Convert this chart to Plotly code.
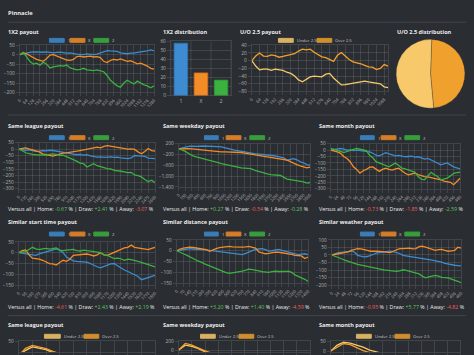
import plotly.graph_objects as go

W, H = 474, 355
BG = "#2a2d32"
GRID = "rgba(255,255,255,0.11)"
TXT = "#ececec"
TICK = "#b0b0b0"
BLUE = "#3d8bd0"
ORANGE = "#f38b26"
GREEN = "#3bb13f"
UNDER = "#f8c96a"
OVER = "#f0a02c"
POS = "#62c462"
NEG = "#ee5f5b"
FONT = "Open Sans"

# ---------------- data ----------------
# 1X2 payout (Pinnacle)
pay_home = [0, 5, 8, 12, 15, 14, 16, 13, 15, 12, 10, 12, 14, 11, 8, 10, 5, 3, 2, 0, 4, 2, 0, 3,
            10, 18, 22, 20, 20, 18, 10, 6, 5, 8, 8, 12, 15, 14, 20, 25, 20]
pay_draw = [0, 10, 5, -5, -15, -25, -30, -35, -20, -2, 0, -8, -15, -22, -28, -30, -25, -10, -8, -12,
            -10, -8, -12, -10, -15, -35, -42, -30, -25, -28, -22, -30, -35, -32, -40, -48, -45, -52,
            -60, -72, -76]
pay_away = [0, 12, -10, -35, -50, -45, -55, -40, -50, -70, -65, -62, -58, -60, -55, -70, -75, -80,
            -78, -72, -80, -82, -84, -80, -86, -90, -110, -135, -150, -165, -172, -150, -135, -145,
            -155, -140, -150, -160, -165, -175, -165]
# 1X2 distribution
dist_cats = ["1", "X", "2"]
dist_vals = [58, 25, 17]
# U/O 2.5 payout
uo_over = [0, 12, 20, 12, 11, 15, 13, 9, 11, 14, 16, 18, 25, 30, 28, 30, 22, 15, 10, 8, 2, -2, 14,
           21, 12, 3, -3, -5, -8, -12, -16, -17, -23, -20, -10, -14]
uo_under = [0, -14, -24, -22, -22, -25, -22, -24, -25, -30, -33, -40, -50, -55, -48, -42, -40, -41,
            -42, -35, -33, -45, -55, -63, -62, -60, -58, -57, -55, -53, -55, -57, -58, -60, -68, -70]
# U/O 2.5 distribution
pie_labels = ["Over 2.5", "Under 2.5"]
pie_vals = [48, 52]

# Same league payout
lg_home = [0, -3, -8, -5, -12, -17, -14, -10, -12, -8, -10, -15, -20, -25, -33, -35, -38, -42, -40,
           -45, -42, -50, -55, -60, -58, -62, -60, -58, -62, -60, -65, -70, -72, -65, -48, -50, -52,
           -55, -67, -70, -72]
lg_draw = [0, 5, 10, 2, -5, -10, -20, -35, -42, -48, -52, -45, -35, -30, -28, -22, -18, -15, -10,
           -5, 0, 5, 12, 15, 10, 22, 27, 22, 20, 12, 8, 5, 0, 2, -2, -20, -35, -17, 5, -10, -15]
lg_away = [0, -10, -27, -35, -40, -42, -44, -47, -45, -40, -35, -40, -47, -45, -55, -65, -80, -90,
           -105, -110, -135, -120, -110, -125, -135, -140, -147, -150, -160, -162, -167, -172, -177,
           -175, -195, -200, -210, -230, -245, -235, -255]
# Same weekday payout
wd_home = [0, 40, 70, 100, 105, 95, 100, 110, 100, 95, 100, 90, 85, 80, 45, 15, -10, -40, -60, -85,
           -100, -120, -150, -170, -180, -190, -200, -205, -230, -250, -270, -290, -330, -415, -380,
           -355, -400, -475, -510, -575, -600]
wd_draw = [0, 10, 15, 15, 5, -10, -20, -30, -50, -60, -70, -85, -95, -105, -110, -110, -120, -125,
           -130, -130, -150, -170, -190, -205, -220, -250, -270, -290, -310, -330, -350, -380, -395,
           -415, -470, -540, -580, -625, -660, -700, -670]
wd_away = [0, -30, -90, -180, -240, -280, -310, -330, -360, -400, -440, -475, -505, -540, -570,
           -600, -625, -650, -680, -700, -710, -720, -730, -780, -820, -845, -880, -920, -945, -960,
           -970, -980, -1050, -1115, -1130, -1150, -1170, -1200, -1215, -1260, -1240]
# Same month payout
mo_home = [0, 5, 10, 12, 8, 0, 2, -5, 0, -3, -10, -8, -14, -25, -40, -45, -30, -20, -30, -40, -45,
           -42, -50, -52, -50, -48, -55, -52, -60, -70, -65, -75, -90, -100, -115, -108, -100, -115,
           -130, -138, -145]
mo_draw = [0, -5, -15, -25, -50, -65, -90, -130, -150, -178, -160, -150, -132, -130, -150, -165,
           -150, -140, -150, -155, -145, -140, -160, -180, -192, -185, -178, -190, -200, -205, -208,
           -213, -220, -225, -230, -240, -248, -250, -268, -240, -218]
mo_away = [12, 5, 0, -10, -20, -10, 0, 5, 12, 8, 0, -5, -40, -60, -90, -100, -115, -120, -130, -115,
           -100, -120, -140, -145, -155, -160, -170, -205, -225, -230, -200, -172, -190, -205, -230,
           -225, -218, -200, -180, -175, -172]
# Similar start time payout
st_home = [0, -3, -5, -8, -10, -12, -5, 0, 3, 8, 15, 18, 12, 0, -20, -30, -38, -40, -42, -42, -44,
           -50, -58, -65, -70, -62, -57, -52, -50, -60, -72, -80, -87, -95, -100, -110, -125, -120,
           -115, -108, -105]
st_draw = [0, 10, 13, -10, -25, -27, -30, -35, -42, -50, -52, -57, -45, -35, -40, -30, -12, -10,
           -10, -8, -6, -10, -15, -10, 0, -10, -12, -5, 2, 10, 17, 22, 25, 35, 25, 22, 20, 18, 14,
           20, 25]
st_away = [0, 3, 5, 15, 25, 18, 14, 18, 20, 17, 20, 22, 12, 10, 12, 14, 15, 10, 8, 12, 10, 8, 5, 2,
           0, -10, -12, -20, -27, -25, -28, -35, -30, -32, -35, -40, -45, -50, -52, -57, -65]
# Similar distance payout
ds_home = [0, 3, 6, 8, 10, 8, 7, 9, 6, 4, 2, 0, -2, -3, -3, -6, -10, -12, -14, -16, -18, -12, -6, 0,
           6, 8, 10, 5, -2, 0, 4, 6, 2, -2, -6, -10, -15, -18, -16, -14, -18]
ds_draw = [0, 8, 12, 15, 17, 15, 13, 12, 10, 5, -3, 5, 10, 14, 17, 18, 20, 18, 17, 17, 17, 18, 20,
           16, 12, -5, -9, -14, -12, -8, -6, -7, -9, -12, -14, -17, -21, -23, -24, -36, -29]
ds_away = [0, -8, -14, -20, -29, -36, -44, -50, -59, -64, -70, -76, -82, -90, -97, -101, -105, -103,
           -100, -96, -94, -90, -85, -87, -89, -93, -97, -99, -100, -97, -94, -96, -97, -95, -94,
           -100, -112, -118, -124, -132, -142]
# Similar weather payout
we_home = [0, 8, 15, 18, 20, 22, 25, 20, -2, -8, -12, -10, -5, 5, 15, 18, 20, 22, 25, 22, 18, 10,
           -2, -5, -10, -12, -15, -18, -24, -27, -30, -34, -38, -40, -48, -55, -60, -66, -68, -70, -72]
we_draw = [0, 5, 9, 12, 15, 20, 31, 38, 42, 40, 37, 30, 25, 27, 25, 24, 22, 20, 16, 25, 35, 42, 42,
           46, 45, 40, 42, 55, 59, 52, 46, 40, 31, 35, 37, 30, 25, 28, 31, 52, 45]
we_away = [0, -10, -18, -25, -34, -40, -44, -55, -62, -66, -70, -74, -77, -82, -88, -93, -98, -102,
           -105, -108, -109, -105, -98, -102, -109, -112, -118, -125, -140, -152, -145, -141, -135,
           -140, -148, -150, -152, -160, -170, -175, -184]
# U/O section (partly visible)
lg_under = [0, 18, 30, 26, 20, 10, -5, -15, -25, -30, -40, -45, -50, -55, -60, -62, -65, -70, -72, -75, -80]
lg_over = [0, 25, 35, 30, 24, 14, 2, -10, -18, -28, -35, -40, -42, -50, -55, -60, -58, -64, -70, -72, -74]
wd_under = [0, 110, 80, 30, -40, -90, -140, -200, -260, -300, -350, -400, -450, -480, -520, -560, -600, -640, -680, -700, -720]
wd_over = [0, 150, 110, 40, -20, -70, -130, -180, -230, -280, -320, -370, -410, -450, -490, -530, -570, -600, -640, -670, -700]
mo_under = [0, 30, 45, 40, 30, 20, 5, -10, -20, -30, -40, -45, -50, -60, -70, -75, -80, -85, -90, -95, -100]
mo_over = [0, 20, 38, 32, 15, 2, -8, -18, -28, -35, -42, -50, -55, -62, -68, -72, -78, -82, -88, -92, -96]

stats = [
    ("-0.67", "+2.41", "-3.07", POS, POS, NEG),
    ("+0.27", "-0.54", "-0.28", POS, NEG, POS),
    ("-0.73", "-1.85", "-2.59", NEG, NEG, POS),
    ("-4.61", "+2.43", "+2.19", NEG, POS, POS),
    ("+3.20", "+1.40", "-4.59", POS, POS, NEG),
    ("-0.95", "+5.77", "-4.82", NEG, POS, NEG),
]

# ---------------- helpers ----------------
fig = go.Figure()
layout_axes = {}
shapes = []
annots = []
counter = [0]


def ax(n, kind):
    return kind + ("" if n == 1 else str(n))


def new_axes(x0, x1, ytop, ybot, xcfg, ycfg):
    counter[0] += 1
    n = counter[0]
    base = dict(showgrid=True, gridcolor=GRID, gridwidth=1, zeroline=False,
                showline=True, linecolor=GRID, linewidth=1, ticks="outside", ticklen=3,
                tickcolor=GRID, tickfont=dict(family=FONT, size=4.8, color=TICK), fixedrange=True)
    xa = dict(base, domain=[x0 / W, x1 / W], anchor=ax(n, "y"), mirror=True)
    xa.update(xcfg)
    ya = dict(base, domain=[1 - ybot / H, 1 - ytop / H], anchor=ax(n, "x"), mirror=True)
    ya.update(ycfg)
    layout_axes[ax(n, "xaxis")] = xa
    layout_axes[ax(n, "yaxis")] = ya
    return n


def line_chart(x0, x1, ytop, ybot, yrange, dtick, tick0, xstep, series, colors,
               show_xlabels=True, width=1.3):
    npts = len(series[0])
    xs = [i * xstep for i in range(npts)]
    tv = xs[::2]
    n = new_axes(x0, x1, ytop, ybot,
                 dict(range=[0, xs[-1]], tickvals=tv, ticktext=[str(v) for v in tv],
                      tickangle=-45, showticklabels=show_xlabels,
                      tickfont=dict(family=FONT, size=4.2, color=TICK)),
                 dict(range=yrange, dtick=dtick, tick0=tick0, tickformat=","))
    for vals, col in zip(series, colors):
        fig.add_trace(go.Scatter(x=xs[:len(vals)], y=vals, mode="lines",
                                 line=dict(color=col, width=width),
                                 xaxis=ax(n, "x"), yaxis=ax(n, "y"),
                                 showlegend=False, hoverinfo="skip"))
    return n


def text(x, y, s, size=5.5, bold=False, color=TXT, anchor="left"):
    annots.append(dict(x=x / W, y=1 - y / H, xref="paper", yref="paper", showarrow=False,
                       text=f"<b>{s}</b>" if bold else s, xanchor=anchor, yanchor="middle",
                       borderpad=0, font=dict(family=FONT, size=size, color=color)))


def legend_box(x0, x1, y, color, label):
    shapes.append(dict(type="rect", xref="paper", yref="paper", x0=x0 / W, x1=x1 / W,
                       y0=1 - (y + 2) / H, y1=1 - (y - 2) / H,
                       fillcolor=color, opacity=0.85, line=dict(color=color, width=1)))
    text(x1 + 2.5, y, label, size=4.3, color="#c8c8c8")


def hline(y):
    shapes.append(dict(type="line", xref="paper", yref="paper", x0=5 / W, x1=469 / W,
                       y0=1 - y / H, y1=1 - y / H, line=dict(color="#43474d", width=1)))


def versus(x, y, st):
    h, d, a, ch, cd, ca = st
    s = (f"Versus all | Home: <span style='color:{ch}'>{h}</span> % | "
         f"Draw: <span style='color:{cd}'>{d}</span> % | "
         f"Away: <span style='color:{ca}'>{a}</span> %")
    text(x, y, s, size=5.3)


LINE_COLS = [BLUE, ORANGE, GREEN]
TITLE_X = [4, 161, 319]
TSIZE = 5.5
LEG_1X2 = [[(47, 62), (68, 83), (92, 107)],
           [(204, 218), (226, 241), (250, 265)],
           [(362, 376), (383, 398), (407, 422)]]
LEG_UO = [[(42, 58), (82, 97)], [(200, 215), (239, 254)], [(358, 373), (397, 412)]]

# ---------------- header ----------------
text(4, 10, "Pinnacle", size=5.8, bold=True)
hline(19.5)

# ---------------- row 1 ----------------
text(4, 29, "1X2 payout", size=TSIZE, bold=True)
text(161, 29, "1X2 distribution", size=TSIZE, bold=True)
text(239, 29, "U/O 2.5 payout", size=TSIZE, bold=True)
text(398, 29, "U/O 2.5 distribution", size=TSIZE, bold=True)

line_chart(17, 153, 43, 91, [-200, 50], 50, 0, 32, [pay_home, pay_draw, pay_away], LINE_COLS)
for (a, b), lab, col in zip(LEG_1X2[0], ["1", "X", "2"], LINE_COLS):
    legend_box(a, b, 38, col, lab)

# bar chart
nb = new_axes(170, 231, 39, 94,
              dict(range=[-0.5, 2.5], tickvals=[0, 1, 2], ticktext=dist_cats, showgrid=False,
                   ticks="", tickfont=dict(family=FONT, size=5.2, color=TICK)),
              dict(range=[0, 60], dtick=10))
fig.add_trace(go.Bar(x=[0, 1, 2], y=dist_vals, width=0.68,
                     marker=dict(color=[BLUE, ORANGE, GREEN],
                                 line=dict(color=["#2f6fa8", "#c96d1c", "#2c8c30"], width=0.8)),
                     xaxis=ax(nb, "x"), yaxis=ax(nb, "y"), showlegend=False, hoverinfo="skip"))
for xv in [-0.5, 0.5, 1.5, 2.5]:
    shapes.append(dict(type="line", xref=ax(nb, "x"), yref=ax(nb, "y") + " domain",
                       x0=xv, x1=xv, y0=0, y1=1, line=dict(color=GRID, width=1)))

line_chart(252, 390, 43, 90, [-80, 40], 20, 0, 32, [uo_over, uo_under], [OVER, UNDER])
legend_box(279, 294, 38, UNDER, "Under 2.5")
legend_box(318, 333, 38, OVER, "Over 2.5")

fig.add_trace(go.Pie(labels=pie_labels, values=pie_vals, sort=False, direction="clockwise",
                     rotation=2, marker=dict(colors=[OVER, UNDER], line=dict(color=BG, width=0.3)),
                     textinfo="none", hoverinfo="skip", showlegend=False,
                     domain=dict(x=[398 / W, 468 / W], y=[1 - 107 / H, 1 - 37 / H])))

hline(114)

# ---------------- row 2 ----------------
titles2 = ["Same league payout", "Same weekday payout", "Same month payout"]
for tx, t in zip(TITLE_X, titles2):
    text(tx, 125, t, size=TSIZE, bold=True)
line_chart(16, 154, 142, 189, [-300, 50], 50, 0, 65, [lg_home, lg_draw, lg_away], LINE_COLS)
line_chart(178, 311, 143, 187, [-1400, 200], 400, 200, 75, [wd_home, wd_draw, wd_away], LINE_COLS)
line_chart(332, 463, 143, 189, [-300, 50], 50, 0, 12, [mo_home, mo_draw, mo_away], LINE_COLS)
for c in range(3):
    for (a, b), lab, col in zip(LEG_1X2[c], ["1", "X", "2"], LINE_COLS):
        legend_box(a, b, 137, col, lab)
for c in range(3):
    versus(TITLE_X[c], 210, stats[c])

# ---------------- row 3 ----------------
titles3 = ["Similar start time payout", "Similar distance payout", "Similar weather payout"]
for tx, t in zip(TITLE_X, titles3):
    text(tx, 223, t, size=TSIZE, bold=True)
line_chart(16, 154, 243, 287, [-150, 50], 50, 0, 45, [st_home, st_draw, st_away], LINE_COLS)
line_chart(176, 309, 241, 285, [-150, 50], 50, 0, 35, [ds_home, ds_draw, ds_away], LINE_COLS)
line_chart(333, 464, 241, 287, [-200, 100], 50, 0, 12, [we_home, we_draw, we_away], LINE_COLS)
for c in range(3):
    for (a, b), lab, col in zip(LEG_1X2[c], ["1", "X", "2"], LINE_COLS):
        legend_box(a, b, 235, col, lab)
for c in range(3):
    versus(TITLE_X[c], 309, stats[3 + c])

hline(318)

# ---------------- row 4 (cut off) ----------------
for tx, t in zip(TITLE_X, titles2):
    text(tx, 328, t, size=TSIZE, bold=True)
for c in range(3):
    legend_box(LEG_UO[c][0][0], LEG_UO[c][0][1], 339, UNDER, "Under 2.5")
    legend_box(LEG_UO[c][1][0], LEG_UO[c][1][1], 339, OVER, "Over 2.5")
line_chart(16, 154, 344, 355, [12, 50], 50, 0, 65, [lg_under, lg_over], [UNDER, OVER],
           show_xlabels=False)
line_chart(178, 311, 344, 355, [-45, 200], 200, 0, 75, [wd_under, wd_over], [UNDER, OVER],
           show_xlabels=False)
line_chart(332, 463, 344, 355, [-5, 50], 50, 0, 12, [mo_under, mo_over], [UNDER, OVER],
           show_xlabels=False)

fig.update_layout(
    width=W, height=H, autosize=False,
    margin=dict(l=0, r=0, t=0, b=0, pad=0),
    paper_bgcolor=BG, plot_bgcolor=BG,
    font=dict(family=FONT, color=TXT),
    shapes=shapes, annotations=annots, bargap=0.3,
    **layout_axes,
)
fig.write_html("out.html",
               config={"displayModeBar": False, "staticPlot": True},
               post_script="document.body.style.margin='0';"
                           "document.body.style.overflow='hidden';"
                           "document.body.style.background='" + BG + "';")
